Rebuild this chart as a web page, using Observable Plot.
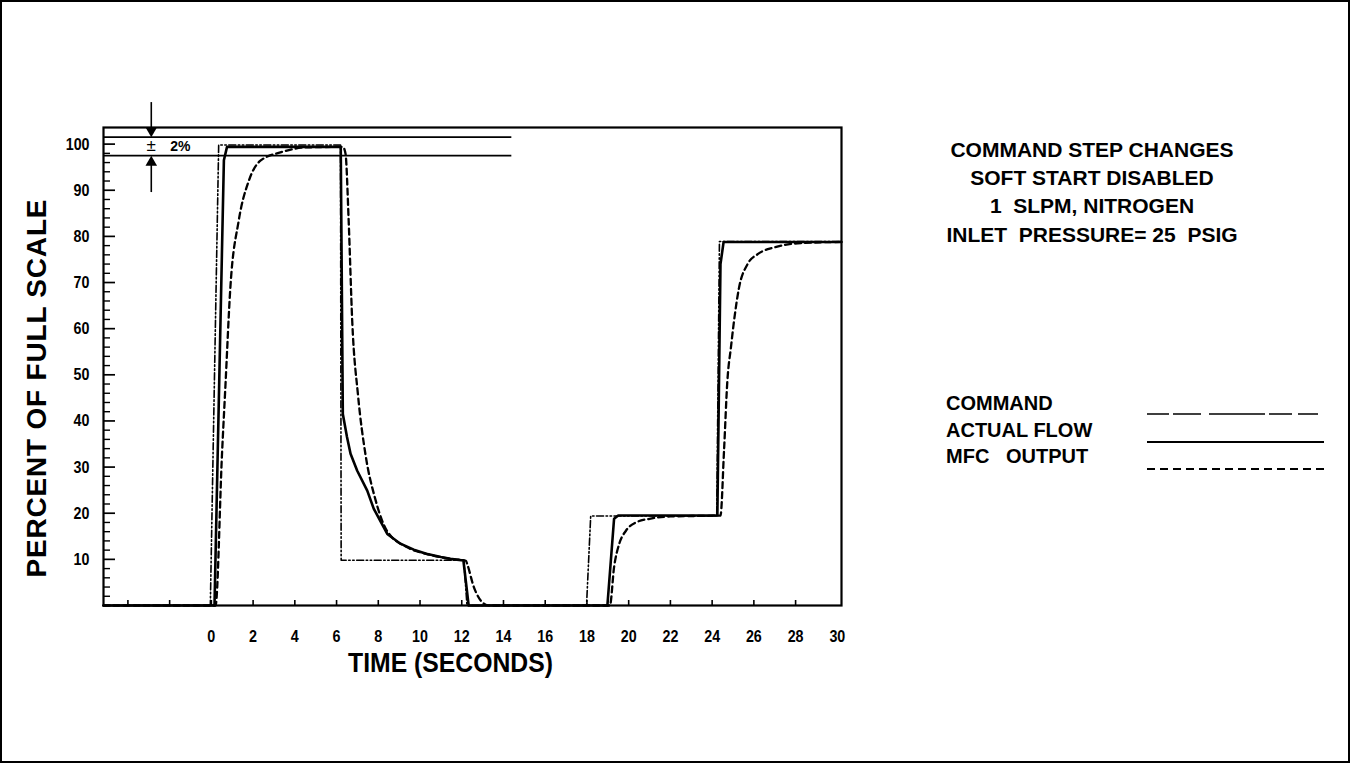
<!DOCTYPE html>
<html>
<head>
<meta charset="utf-8">
<script src="https://cdn.jsdelivr.net/npm/d3@7"></script>
<script src="https://cdn.jsdelivr.net/npm/@observablehq/plot@0.6"></script>
<style>
  html, body { margin: 0; padding: 0; background: #fff; }
  #wrap { position: relative; width: 1350px; height: 763px; overflow: hidden; background: #fff;
          font-family: "Liberation Sans", Arial, Helvetica, sans-serif; font-weight: bold; color: #000; }
  #border { position: absolute; left: 0; top: 0; width: 1350px; height: 763px; box-sizing: border-box;
            border: 2px solid #000; pointer-events: none; }
  #chart { position: absolute; left: 0; top: 0; }
  #note { position: absolute; left: 942px; top: 136px; width: 300px; text-align: center;
          font-size: 21px; line-height: 28.2px; white-space: pre; }
  #legend { position: absolute; left: 946px; top: 390px; font-size: 20px; line-height: 26.7px; white-space: pre; }
  #legendLines { position: absolute; left: 0; top: 0; }
</style>
</head>
<body>
<div id="wrap">
  <div id="chart"></div>
  <div id="note"></div>
  <div id="legend"></div>
  <svg id="legendLines" width="1350" height="763"></svg>
  <div id="border"></div>
</div>
<script>
// ---------------- data ----------------
const commandT = [-5.17, -0.05, 0.35, 6.19, 6.22, 12.1, 12.25, 17.98, 18.18, 24.22, 24.35, 30.2];
const commandV = [0, 0, 99.8, 99.8, 9.8, 9.8, 0, 0, 19.4, 19.4, 78.9, 78.9];

const flowT = [-5.17, 0.15, 0.6, 0.75, 6.2, 6.3, 6.5, 6.67, 6.99, 7.47, 7.78, 8.43, 9.06, 9.7, 10.3, 11.0, 11.46, 12.08, 12.33,
               18.98, 19.3, 19.5, 24.25, 24.4, 24.55, 30.2];
const flowV = [0, 0, 96.5, 99.4, 99.4, 41.5, 36.5, 32.9, 29.2, 24.9, 21.0, 15.5, 13.4, 12.1, 11.2, 10.5, 10.1, 9.75, 0,
               0, 18.8, 19.5, 19.5, 74, 78.8, 78.8];

const mfcT = [-5.17, 0.2, 0.51, 0.67, 0.91, 1.31, 1.79, 2.35, 3.31, 4.59, 6.3, 6.43, 6.58, 6.75, 7.03, 7.38, 7.86, 8.4, 9.39,
              10.3, 11.46, 12.2, 12.26, 12.58, 13.06, 13.3, 19.1, 19.3, 19.55, 19.87, 20.35, 21.0, 22.0, 24.4, 24.57, 24.73,
              24.9, 25.05, 25.29, 25.7, 26.2, 26.97, 28.1, 30.2];
const mfcV = [0, 0, 32.9, 47.3, 68.9, 83.4, 92, 96.4, 98.2, 99.3, 99.4, 97.9, 83.4, 61.7, 45.5, 32.9, 23, 16.3, 12.6,
              11.2, 10.1, 9.7, 9, 4, 0.4, 0, 0, 8.3, 13.4, 16.2, 18, 18.8, 19.3, 19.5, 33.6, 48.7,
              55.9, 61.7, 68.9, 74, 76.2, 77.6, 78.5, 78.8];

const yLabelTicks = [10, 20, 30, 40, 50, 60, 70, 80, 90, 100];
const yMinorTicks = [2, 4, 6, 8, 12, 14, 16, 18, 22, 24, 26, 28, 32, 34, 36, 38, 42, 44, 46, 48, 52, 54, 56, 58,
                     62, 64, 66, 68, 72, 74, 76, 78, 82, 84, 86, 88, 92, 94, 96, 98];
const xInnerTicks = [-4, -2, 0, 2, 4, 6, 8, 10, 12, 14, 16, 18, 20, 22, 24, 26, 28];
const xLabelTicks = [0, 2, 4, 6, 8, 10, 12, 14, 16, 18, 20, 22, 24, 26, 28, 30];

const xDomain = [-5.17, 30.2];
const yDomain = [0, 103.6];

// ±2% band annotation
const bandLevels = [101.5, 97.5];
const bandEnd = 14.4;
const arrowX = -2.88;
const arrowShafts = [{y1: 109.0, y2: 103.5}, {y1: 96.0, y2: 89.5}];
const arrowHeads = [{y: 102.95, rot: 180}, {y: 96.05, rot: 0}];
const plusMinus = {x: -2.88, y: 99.6, label: "±"};
const bandLabel = {x: -1.49, y: 99.4, label: "2%"};

const yTitle = "PERCENT OF FULL SCALE";
const xTitle = "TIME (SECONDS)";
const noteLines = ["COMMAND STEP CHANGES", "SOFT START DISABLED", "1  SLPM, NITROGEN", "INLET  PRESSURE= 25  PSIG"];
const seriesNames = ["COMMAND", "ACTUAL FLOW", "MFC   OUTPUT"];

// ---------------- chart ----------------
const W = 1350, H = 763;
const mL = 103, mR = 509, mT = 127, mB = 158;
const frameW = W - mL - mR, frameH = H - mT - mB;

const toRows = (ts, vs) => ts.map((t, i) => ({t, v: vs[i]}));
const commandDash = "7,2.5,1.5,2.5,1.5,2.5";
const mfcDash = "6,4";
const tickFont = '"Liberation Sans", Arial, sans-serif';

const chart = Plot.plot({
  width: W, height: H,
  marginLeft: mL, marginRight: mR, marginTop: mT, marginBottom: mB,
  x: {domain: xDomain},
  y: {domain: yDomain},
  style: {background: "transparent", color: "#000", fontFamily: tickFont, fontWeight: "bold", overflow: "visible"},
  marks: [
    Plot.line(toRows(commandT, commandV), {x: "t", y: "v", stroke: "#000", strokeWidth: 1.6, strokeDasharray: commandDash}),
    Plot.line(toRows(mfcT, mfcV), {x: "t", y: "v", stroke: "#000", strokeWidth: 2.3, strokeDasharray: mfcDash, curve: "monotone-x"}),
    Plot.line(toRows(flowT, flowV), {x: "t", y: "v", stroke: "#000", strokeWidth: 2.6}),
    Plot.ruleY(bandLevels, {x1: xDomain[0], x2: bandEnd, stroke: "#000", strokeWidth: 1.7}),
    Plot.tickY(yLabelTicks, {y: d => d, insetRight: frameW - 12, stroke: "#000", strokeWidth: 1.7}),
    Plot.tickY(yMinorTicks, {y: d => d, insetRight: frameW - 7, stroke: "#000", strokeWidth: 1.4}),
    Plot.tickX(xInnerTicks, {x: d => d, insetTop: frameH - 5, stroke: "#000", strokeWidth: 1.6}),
    Plot.axisY(yLabelTicks, {tickSize: 0, tickPadding: 14, fontSize: 17, fontWeight: "bold", label: null, className: "ytick"}),
    Plot.axisX(xLabelTicks, {tickSize: 0, tickPadding: 24, fontSize: 17, fontWeight: "bold", label: null, className: "xtick"}),
    Plot.frame({stroke: "#000", strokeWidth: 2.2}),
    Plot.ruleX(arrowShafts, {x: () => arrowX, y1: "y1", y2: "y2", stroke: "#000", strokeWidth: 1.6}),
    Plot.dot(arrowHeads.filter(d => d.rot === 180), {x: () => arrowX, y: "y", symbol: "triangle", r: 4.3, fill: "#000", stroke: null, rotate: 180}),
    Plot.dot(arrowHeads.filter(d => d.rot === 0), {x: () => arrowX, y: "y", symbol: "triangle", r: 4.3, fill: "#000", stroke: null}),
    Plot.text([plusMinus], {x: "x", y: "y", text: "label", fontSize: 17, fontWeight: "normal", fill: "#000"}),
    Plot.text([bandLabel], {x: "x", y: "y", text: "label", fontSize: 14, fontWeight: "bold", fill: "#000"}),
    Plot.text([yTitle], {frameAnchor: "left", dx: -66, dy: 22, rotate: -90, textAnchor: "middle", lineAnchor: "middle",
                         fontSize: 28, fontWeight: "bold", fill: "#000"}),
    Plot.text([xTitle], {frameAnchor: "bottom", dy: 58, dx: -22, textAnchor: "middle", lineAnchor: "middle",
                         fontSize: 27, fontWeight: "bold", fill: "#000"})
  ]
});
document.getElementById("chart").appendChild(chart);

// condense / fit the hand-lettered texts
const svgSel = d3.select(chart);
svgSel.selectAll("text").filter(function () { return this.textContent === yTitle; })
  .attr("textLength", 378).attr("lengthAdjust", "spacing");
svgSel.selectAll("text").filter(function () { return this.textContent === xTitle; })
  .attr("textLength", 205).attr("lengthAdjust", "spacingAndGlyphs");
svgSel.selectAll(".xtick text, .ytick text").each(function () {
  const len = this.getComputedTextLength();
  if (len > 0) d3.select(this).attr("textLength", (len * 0.84).toFixed(1)).attr("lengthAdjust", "spacingAndGlyphs");
});

// ---------------- right-hand notes and legend ----------------
document.getElementById("note").textContent = noteLines.join("\n");
document.getElementById("legend").textContent = seriesNames.join("\n");

const legendSvg = d3.select("#legendLines");
const legendStyles = [
  {dash: "22,4,28,8,56,4,23,6,20", width: 1.7},
  {dash: null, width: 2.0},
  {dash: "8,5", width: 2.0}
];
const legendY = [414, 442, 469];
legendStyles.forEach((s, i) => {
  legendSvg.append("line")
    .attr("x1", 1147).attr("x2", 1324)
    .attr("y1", legendY[i]).attr("y2", legendY[i])
    .attr("stroke", "#000").attr("stroke-width", s.width)
    .attr("stroke-dasharray", s.dash);
});
</script>
</body>
</html>
